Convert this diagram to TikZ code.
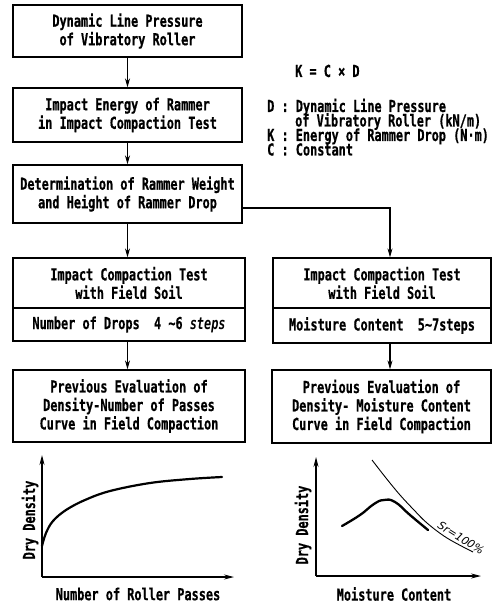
\documentclass[tikz,border=0pt]{standalone}
\usepackage{fontspec}
\usetikzlibrary{arrows.meta}
\newfontfamily\tw[FakeStretch=0.72, BoldFeatures={FakeBold=0.6}]{DejaVu Sans Mono}
\newfontfamily\hand{DejaVu Sans}
\tikzset{
  box/.style={draw, line width=1.3pt, rectangle, inner sep=0pt, align=center,
    font=\tw\bfseries\fontsize{16.5}{18.5}\selectfont},
  lbl/.style={inner sep=0pt, font=\tw\bfseries\fontsize{16.5}{18}\selectfont},
  arr/.style={line width=1.1pt, -{Stealth[length=9pt,width=5pt]}},
  axis/.style={line width=1.1pt, -{Stealth[length=10pt,width=5pt]}},
}
\begin{document}
\begin{tikzpicture}[x=1pt,y=-1pt]
\useasboundingbox (0,0) rectangle (495,604);
% left column
\node[box, minimum width=229pt, minimum height=52pt] (b1) at (127.5,31) {Dynamic Line Pressure\\of Vibratory Roller};
\node[box, minimum width=229pt, minimum height=54pt] (b2) at (127.5,115) {Impact Energy of Rammer\\in Impact Compaction Test};
\node[box, minimum width=229pt, minimum height=58pt] (b3) at (127.5,194) {Determination of Rammer Weight\\and Height of Rammer Drop};
\node[box, minimum width=232pt, minimum height=50pt] (l1) at (129,283) {Impact Compaction Test\\with Field Soil};
\node[box, minimum width=232pt, minimum height=33pt] (l2) at (129,324.5) {Number of Drops\ \ 4 ∼6 {\itshape steps}};
\node[box, minimum width=232pt, minimum height=72pt] (l3) at (129,406) {Previous Evaluation of\\Density-Number of Passes\\Curve in Field Compaction};
% right column
\node[box, minimum width=218pt, minimum height=50pt] (r1) at (382,283) {Impact Compaction Test\\with Field Soil};
\node[box, minimum width=218pt, minimum height=35pt] (r2) at (382,325.5) {Moisture Content\ \ 5∼7steps};
\node[box, minimum width=219pt, minimum height=73pt] (r3) at (381.5,406.5) {Previous Evaluation of\\Density- Moisture Content\\Curve in Field Compaction};
% formula text
\node[lbl, anchor=base west] (f0) at (295,77) {K = C × D};
\node[lbl, anchor=base west] (f1) at (267,112) {D : Dynamic Line Pressure};
\node[lbl, anchor=base west] (f2) at (295,126.5) {of Vibratory Roller (kN/m)};
\node[lbl, anchor=base west] (f3) at (267,141) {K : Energy of Rammer Drop (N·m)};
\node[lbl, anchor=base west] (f4) at (267,155.5) {C : Constant};
% connectors
\draw[arr] (b1.south) -- (b2.north);
\draw[arr] (b2.south) -- (b3.north);
\draw[arr] (b3.south) -- (b3.south |- l1.north);
\draw[arr] (b3.south |- l2.south) -- (b3.south |- l3.north);
\draw[arr] ([yshift=-14pt]b3.east) -| ([xshift=8pt]r1.north);
\draw[arr] ([xshift=8pt]r2.south) -- ([xshift=8.5pt]r3.north);
% left graph
\coordinate (o1) at (42,577);
\coordinate (y1) at (42,455);
\coordinate (x1) at (234,577);
\draw[axis] (o1) -- (y1);
\draw[axis] (o1) -- (x1);
\draw[line width=2.2pt, line cap=round] plot[smooth, tension=0.6] coordinates {(42,546) (46,533) (53,521) (66,510) (85,500) (110,491) (150,483) (190,479) (222,477)};
\node[lbl, rotate=90] (yl1) at (30,520) {Dry Density};
\node[lbl] (xl1) at (138,594) {Number of Roller Passes};
% right graph
\coordinate (o2) at (316,576);
\coordinate (y2) at (316,457);
\coordinate (x2) at (481,576);
\draw[axis] (o2) -- (y2);
\draw[axis] (o2) -- (x2);
\draw[line width=0.9pt] plot[smooth, tension=0.6] coordinates {(372,460) (386,478) (400,495) (414,510) (427,523) (447,538) (473,552)};
\draw[line width=2.3pt, line cap=round] plot[smooth, tension=0.8] coordinates {(342,526) (360,515) (374,504) (384,500) (395,502) (410,515) (428,530)};
\node[inner sep=0pt, rotate=-32, font=\hand\itshape\fontsize{11}{12}\selectfont] (sr) at (461,538) {Sr=100\%};
\node[lbl, rotate=90] (yl2) at (303,525) {Dry Density};
\node[lbl] (xl2) at (394,594) {Moisture Content};
\end{tikzpicture}
\end{document}
